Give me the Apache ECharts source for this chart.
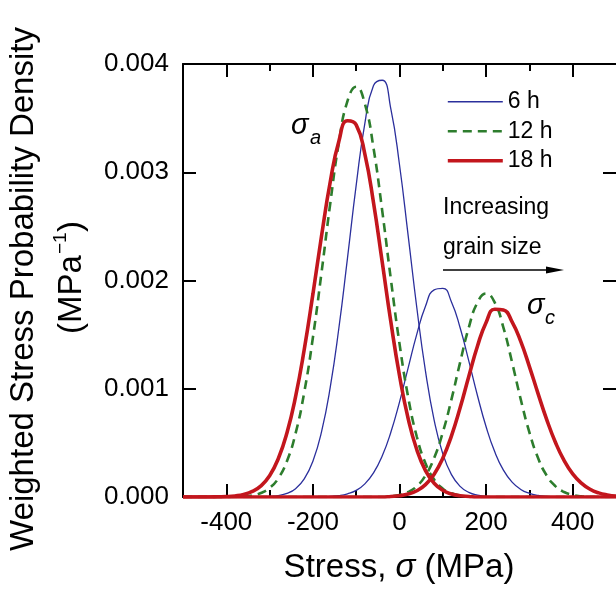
<!DOCTYPE html>
<html><head><meta charset="utf-8">
<script src="https://cdn.jsdelivr.net/npm/echarts@6/dist/echarts.min.js"></script>
<style>html,body{margin:0;padding:0;background:#fff}#c{width:616px;height:596px}</style>
</head><body><div id="c"></div>
<script>
// Stress grid (MPa)
const stress = [-500,-480,-460,-440,-420,-400,-380,-360,-340,-320,-300,-280,-260,-240,-220,-200,-180,-160,-140,-120,-100,-80,-60,-40,-20,0,20,40,60,80,100,120,140,160,180,200,220,240,260,280,300,320,340,360,380,400,420,440,460,480,500];
// Tick values
const xMajorTicks = [-400,-200,0,200,400];
const xMinorTicks = [-300,-100,100,300];
const legendNames = ['6 h','12 h','18 h'];

// 6 h: sigma_a and sigma_c distributions
const dens6hA = [0,0,0,0,0,0,0,0,0,0,
  0.000005,0.000013,0.000033,0.000077,0.000167,0.000331,0.000604,0.001012,0.001561,0.002211,
  0.002881,0.003452,0.003802,0.00385,0.003585,0.003069,0.002415,0.001748,0.001163,0.000711,
  0.0004,0.000207,0.000098,0.000043,0.000017,0.000006,
  0,0,0,0,0,0,0,0,0,0,0,0,0,0,0];
const dens6hC = [0,0,0,0,0,0,0,0,0,0,0,0,0,0,0,0,0,
  0.000005,0.000012,0.000029,0.000061,0.000121,0.000222,0.000378,0.000598,0.000877,0.001193,
  0.001505,0.001762,0.001914,0.001928,0.001802,0.001563,0.001257,0.000938,0.000649,0.000417,
  0.000248,0.000137,0.00007,0.000034,0.000015,0.000006,
  0,0,0,0,0,0,0,0];
// 12 h
const dens12hA = [0,0,0,0,0,0,
  0.000002,0.000006,0.000015,0.000037,0.000083,0.000172,0.000331,0.000588,0.000967,0.001473,
  0.002076,0.002709,0.003273,0.00366,0.00379,0.003632,0.003223,0.002647,0.002013,0.001417,
  0.000923,0.000557,0.000311,0.000161,0.000077,0.000034,0.000014,0.000005,
  0,0,0,0,0,0,0,0,0,0,0,0,0,0,0,0,0];
const dens12hC = [0,0,0,0,0,0,0,0,0,0,0,0,0,0,0,0,0,0,0,0,0,0,0,0,
  0.000007,0.000019,0.000046,0.0001,0.000198,0.00036,0.000597,0.000902,0.001244,0.001565,
  0.001796,0.00188,0.001796,0.001565,0.001244,0.000902,0.000597,0.00036,0.000198,0.0001,
  0.000046,0.000019,0.000007,
  0,0,0,0];
// 18 h
const dens18hA = [0,0,0,0,
  0.000002,0.000004,0.00001,0.000023,0.000051,0.000103,0.000197,0.000353,0.000591,0.000927,
  0.001362,0.001874,0.002413,0.00291,0.003287,0.003476,0.003438,0.003168,0.002719,0.002173,
  0.001618,0.001122,0.000724,0.000436,0.000244,0.000127,0.000062,0.000028,0.000012,0.000005,
  0,0,0,0,0,0,0,0,0,0,0,0,0,0,0,0,0];
const dens18hC = [0,0,0,0,0,0,0,0,0,0,0,0,0,0,0,0,0,0,0,0,0,0,0,0,
  0.000005,0.000012,0.000027,0.000058,0.000114,0.00021,0.000358,0.000565,0.000824,0.001114,
  0.001393,0.001613,0.001735,0.001728,0.001618,0.001437,0.001205,0.000955,0.000715,0.000506,
  0.000338,0.000214,0.000128,0.000072,0.000038,0.000019,0.000009];

const FONT = '"Liberation Sans", Arial, Helvetica, sans-serif';
const pairs = arr => stress.map((x, i) => [x, arr[i]]);
const black = '#000';

function xAx(pos, ticks, len, showLine, showLabel) {
  return {
    type: 'value', min: -500, max: 500, position: pos,
    axisLine: { show: showLine, onZero: false, lineStyle: { color: black, width: 2 } },
    axisTick: { show: true, inside: true, length: len, customValues: ticks, lineStyle: { color: black, width: 2 } },
    axisLabel: showLabel ? { show: true, customValues: ticks, fontSize: 26, fontFamily: FONT, color: black, margin: 13 } : { show: false },
    splitLine: { show: false }
  };
}
function yAx(pos, showLine, showLabel) {
  return {
    type: 'value', min: 0, max: 0.004, interval: 0.001, position: pos,
    axisLine: { show: showLine, onZero: false, lineStyle: { color: black, width: 2 } },
    axisTick: { show: true, inside: true, length: 13, lineStyle: { color: black, width: 2 } },
    axisLabel: showLabel ? { show: true, fontSize: 26, fontFamily: FONT, color: black, margin: 14, formatter: v => v.toFixed(3) } : { show: false },
    splitLine: { show: false }
  };
}

const styles = {
  '6 h': { color: '#2b2f9c', width: 1.3, type: 'solid' },
  '12 h': { color: '#2d7d2d', width: 2.6, type: [9, 6] },
  '18 h': { color: '#c3161d', width: 3.6, type: 'solid' }
};
function mk(name, arr) {
  const s = styles[name];
  return {
    type: 'line', name, data: pairs(arr), smooth: true, symbol: 'none', showSymbol: false,
    color: s.color, lineStyle: { color: s.color, width: s.width, type: s.type },
    emphasis: { disabled: true }, silent: true, z: 3
  };
}

const chart = echarts.init(document.getElementById('c'), null, { renderer: 'canvas' });
chart.setOption({
  animation: false,
  backgroundColor: '#fff',
  grid: { left: 183, right: 0, top: 64, bottom: 99, containLabel: false },
  xAxis: [
    xAx('bottom', xMajorTicks, 13, true, true),
    xAx('bottom', xMinorTicks, 7, false, false),
    xAx('top', xMajorTicks, 13, true, false),
    xAx('top', xMinorTicks, 7, false, false)
  ],
  yAxis: [yAx('left', true, true), yAx('right', false, false)],
  legend: {
    data: legendNames.map(n => ({
      name: n,
      lineStyle: { width: styles[n].width, color: styles[n].color, type: styles[n].type }
    })),
    orient: 'vertical', left: 446, top: 87, padding: 0,
    itemWidth: 55, itemHeight: 14, itemGap: 0, selectedMode: false,
    itemStyle: { opacity: 0 },
    textStyle: { fontSize: 23, fontFamily: FONT, color: black, lineHeight: 29.5 }
  },
  series: [
    mk('6 h', dens6hA), mk('6 h', dens6hC),
    mk('12 h', dens12hA), mk('12 h', dens12hC),
    mk('18 h', dens18hA), mk('18 h', dens18hC)
  ],
  graphic: [
    { type: 'text', x: 24, y: 289, rotation: Math.PI / 2, silent: true,
      style: { text: 'Weighted Stress Probability Density', font: '33px ' + FONT, fill: black, align: 'center', verticalAlign: 'middle' } },
    { type: 'text', x: 72, y: 334, rotation: Math.PI / 2, silent: true,
      style: { text: '(MPa', font: '33px ' + FONT, fill: black, align: 'left', verticalAlign: 'middle' } },
    { type: 'text', x: 61, y: 254, rotation: Math.PI / 2, silent: true,
      style: { text: '\u22121', font: '19px ' + FONT, fill: black, align: 'left', verticalAlign: 'middle' } },
    { type: 'text', x: 72, y: 232, rotation: Math.PI / 2, silent: true,
      style: { text: ')', font: '33px ' + FONT, fill: black, align: 'left', verticalAlign: 'middle' } },
    { type: 'text', x: 399, y: 568, silent: true,
      style: { text: '{n|Stress, }{i|\u03c3}{n| (MPa)}', align: 'center', verticalAlign: 'middle',
        rich: { n: { font: '33px ' + FONT, fill: black }, i: { font: 'italic 33px ' + FONT, fill: black } } } },
    { type: 'text', x: 291, y: 126, silent: true,
      style: { text: '\u03c3', font: 'italic 29px ' + FONT, fill: black, align: 'left', verticalAlign: 'middle' } },
    { type: 'text', x: 310, y: 138, silent: true,
      style: { text: 'a', font: 'italic 20px ' + FONT, fill: black, align: 'left', verticalAlign: 'middle' } },
    { type: 'text', x: 527, y: 306, silent: true,
      style: { text: '\u03c3', font: 'italic 29px ' + FONT, fill: black, align: 'left', verticalAlign: 'middle' } },
    { type: 'text', x: 545, y: 318, silent: true,
      style: { text: 'c', font: 'italic 20px ' + FONT, fill: black, align: 'left', verticalAlign: 'middle' } },
    { type: 'text', x: 443, y: 208, silent: true,
      style: { text: 'Increasing', font: '23px ' + FONT, fill: black, align: 'left', verticalAlign: 'middle' } },
    { type: 'text', x: 443, y: 248, silent: true,
      style: { text: 'grain size', font: '23px ' + FONT, fill: black, align: 'left', verticalAlign: 'middle' } },
    { type: 'line', silent: true, shape: { x1: 443, y1: 270, x2: 550, y2: 270 }, style: { stroke: black, lineWidth: 1.3 } },
    { type: 'polygon', silent: true, shape: { points: [[546, 266.5], [564, 270], [546, 273.5]] }, style: { fill: black } }
  ]
});
</script>
</body></html>
